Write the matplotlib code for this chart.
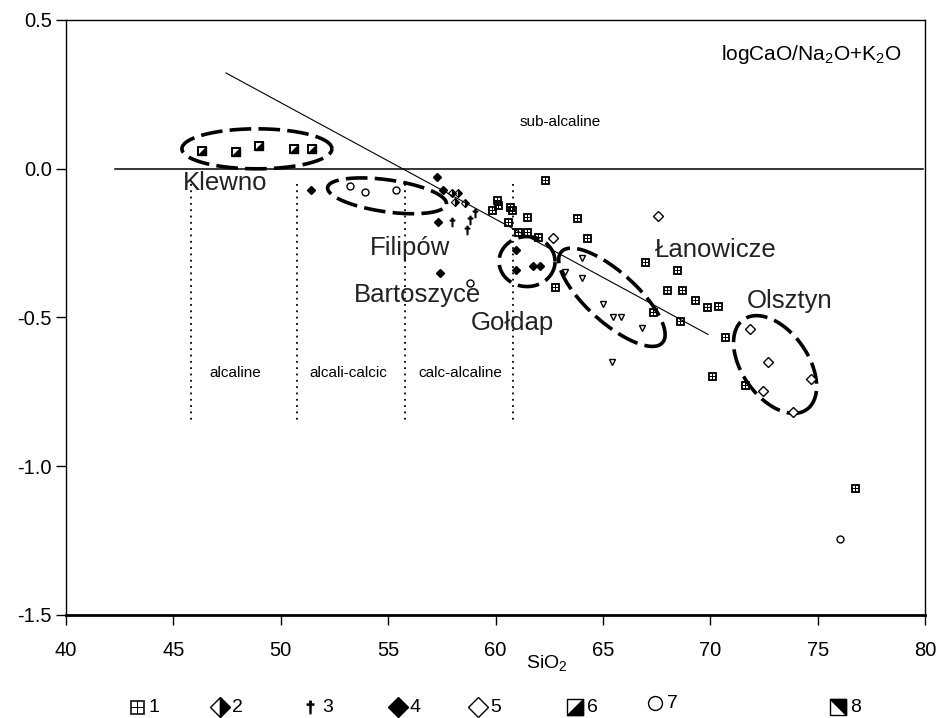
import numpy as np
import matplotlib
matplotlib.use("Agg")
import matplotlib.pyplot as plt
from matplotlib.path import Path

plt.rcParams['font.family'] = ['Liberation Sans', 'DejaVu Sans']
plt.rcParams['mathtext.fontset'] = 'custom'
plt.rcParams['mathtext.rm'] = 'Liberation Sans'
plt.rcParams['mathtext.it'] = 'Liberation Sans'

# ---- data: SiO2 vs log(CaO/(Na2O+K2O)) ----
g1_x = [60.07, 59.84, 60.12, 60.68, 60.77, 61.47, 60.58, 61.05, 61.47, 61.98,
        62.31, 63.80, 64.26, 62.77, 66.96, 68.45, 67.99, 68.68, 69.29, 69.85,
        70.36, 68.59, 67.33, 70.69, 70.08, 71.62, 76.74]
g1_y = [-0.104, -0.138, -0.121, -0.128, -0.138, -0.161, -0.178, -0.211, -0.211, -0.228,
        -0.037, -0.164, -0.232, -0.396, -0.312, -0.342, -0.409, -0.409, -0.440, -0.466,
        -0.463, -0.513, -0.480, -0.567, -0.698, -0.728, -1.074]

g2_x = [57.97, 58.25, 58.11, 58.58]
g2_y = [-0.081, -0.081, -0.111, -0.114]

g3_x = [59.05, 58.81, 58.67, 57.97]
g3_y = [-0.148, -0.171, -0.205, -0.178]

g4_x = [57.28, 57.56, 57.32, 57.42, 51.41, 60.95, 60.95, 61.75, 62.07]
g4_y = [-0.027, -0.070, -0.178, -0.349, -0.070, -0.272, -0.339, -0.326, -0.326]

g5_x = [62.68, 67.57, 71.85, 72.69, 74.69, 73.85, 72.46]
g5_y = [-0.232, -0.158, -0.537, -0.648, -0.708, -0.819, -0.748]

g7_x = [53.22, 53.92, 55.37, 58.81, 76.04]
g7_y = [-0.057, -0.077, -0.070, -0.383, -1.245]

g8_x = [46.32, 47.92, 48.99, 50.62, 51.46]
g8_y = [0.058, 0.057, 0.077, 0.067, 0.067]

tri_x = [64.03, 63.24, 64.03, 65.01, 65.47, 65.84, 66.82, 65.42]
tri_y = [-0.299, -0.346, -0.366, -0.456, -0.497, -0.497, -0.534, -0.648]

# field boundaries
boundary_x = [45.8, 50.75, 55.8, 60.8]
field_names = ["alcaline", "alcali-calcic", "calc-alcaline"]
field_x = [47.87, 53.13, 58.35]
trend_x = [47.45, 69.9]
trend_y = [0.322, -0.557]

# localities
places = ["Klewno", "Filipów", "Bartoszyce", "Gołdap", "Łanowicze", "Olsztyn"]
place_x = [47.40, 56.02, 56.39, 60.77, 70.27, 73.71]
place_y = [-0.071, -0.290, -0.448, -0.542, -0.297, -0.468]

legend_labels = ["1", "2", "3", "4", "5", "6", "7", "8"]

# ---- figure ----
W, H = 942, 718
fig = plt.figure(figsize=(W / 100, H / 100), dpi=100)
L, R, T, B = 66, 925, 20, 615
ax = fig.add_axes([L / W, 1 - B / H, (R - L) / W, (B - T) / H])
ax.set_xlim(40, 80)
ax.set_ylim(-1.5, 0.5)
PX_X = (R - L) / 40.0
PX_Y = (B - T) / 2.0

for s in ax.spines.values():
    s.set_linewidth(1.0)
ax.spines['bottom'].set_linewidth(2.0)
ax.set_xticks(np.arange(40, 81, 5))
ax.set_yticks([0.5, 0.0, -0.5, -1.0, -1.5])
ax.set_yticklabels(["0.5", "0.0", "-0.5", "-1.0", "-1.5"])
ax.tick_params(axis='x', direction='out', length=7, width=1, pad=12, labelsize=14.5)
ax.tick_params(axis='y', direction='out', length=7, width=1, pad=3, labelsize=14.5)

# reference lines
ax.plot([42.3, 79.9], [0, 0], color='black', lw=1.1, clip_on=False)
ax.plot(trend_x, trend_y, color='black', lw=0.8)
for bx in boundary_x:
    ax.plot([bx, bx], [-0.05, -0.85], color='black', lw=1.3, ls=(0, (1, 2.5)))

# dashed envelopes drawn in pixel units then mapped to data
def envelope(cx, cy, a, b, ang):
    t = np.linspace(0, 2 * np.pi, 300)
    th = np.radians(ang)
    dxp = a * np.cos(t) * np.cos(th) - b * np.sin(t) * np.sin(th)
    dyp = a * np.cos(t) * np.sin(th) + b * np.sin(t) * np.cos(th)
    return cx + dxp / PX_X, cy + dyp / PX_Y

for (cx, cy, a, b, ang) in [(48.89, 0.067, 75, 20, 0),
                            (54.95, -0.091, 60, 16, -8),
                            (61.47, -0.312, 28, 25, 0),
                            (65.42, -0.432, 68, 25, -42),
                            (73.02, -0.658, 55, 33, -55)]:
    ex, ey = envelope(cx, cy, a, b, ang)
    ax.plot(ex, ey, color='black', lw=2.6, ls=(0, (6, 2)), solid_capstyle='butt')

# marker shapes
tri_ur = Path([(-1, 1), (1, 1), (1, -1), (-1, 1)], closed=True)
tri_lr = Path([(1, 1), (1, -1), (-1, -1), (1, 1)], closed=True)

ax.plot(g1_x, g1_y, ls='none', marker=r'$\boxplus$', ms=6, color='black', mew=0.6)
ax.plot(g2_x, g2_y, ls='none', marker='D', ms=4, fillstyle='right', color='black', mew=0.8)
ax.plot(g3_x, g3_y, ls='none', marker=r'$\dagger$', ms=6, color='black')
ax.plot(g4_x, g4_y, ls='none', marker='D', ms=4, color='black')
ax.plot(g5_x, g5_y, ls='none', marker='D', ms=5, mfc='white', mec='black', mew=1.0)
ax.plot(g7_x, g7_y, ls='none', marker='o', ms=5, mfc='white', mec='black', mew=1.0)
ax.plot(tri_x, tri_y, ls='none', marker='v', ms=5, mfc='white', mec='black', mew=1.0)
ax.plot(g8_x, g8_y, ls='none', marker='s', ms=5.5, mfc='white', mec='black', mew=1.4)
ax.plot(g8_x, g8_y, ls='none', marker=tri_lr, ms=5.5, color='black', mew=1.0)

# annotations
ax.text(63.0, 0.158, "sub-alcaline", fontsize=11, ha='center', va='center')
for name, fx in zip(field_names, field_x):
    ax.text(fx, -0.685, name, fontsize=11, ha='center', va='center')
for name, px, py in zip(places, place_x, place_y):
    ax.text(px, py, name, fontsize=18.5, ha='center', va='baseline', color='#222222')
ax.text(74.69, 0.383, r'logCaO/Na$_2$O+K$_2$O', fontsize=15, ha='center', va='center')

fig.text(547 / W, 1 - 663 / H, r'SiO$_2$', fontsize=14, ha='center', va='center')

# symbol key along the bottom
lax = fig.add_axes([0, 0, 1, 1], zorder=-1)
lax.set_xlim(0, W)
lax.set_ylim(H, 0)
lax.axis('off')
sym_x = [137, 220, 310, 398, 478, 575, 655, 838]
ky = 707
styles = [dict(marker=r'$\boxplus$', ms=10, color='black', mew=0.4),
          dict(marker='D', ms=10, fillstyle='right', color='black', mew=1.0),
          dict(marker=r'$\dagger$', ms=9, color='black'),
          dict(marker='D', ms=10, color='black'),
          dict(marker='D', ms=10, mfc='white', mec='black', mew=1.0),
          None,
          dict(marker='o', ms=10, mfc='white', mec='black', mew=1.0),
          None]
for i, (sx, lab) in enumerate(zip(sym_x, legend_labels)):
    yy = ky - 4 if lab == "7" else ky
    if lab in ("6", "8"):
        lax.plot([sx], [yy], marker='s', ms=12, mfc='white', mec='black', mew=1.0, ls='none')
        lax.plot([sx], [yy], marker=tri_lr if lab == "6" else tri_ur, ms=12,
                 color='black', ls='none')
    else:
        lax.plot([sx], [yy], ls='none', **styles[i])
    lax.text(sx + 12, yy, lab, fontsize=14, ha='left', va='center')

fig.savefig("out.png", dpi=100)
